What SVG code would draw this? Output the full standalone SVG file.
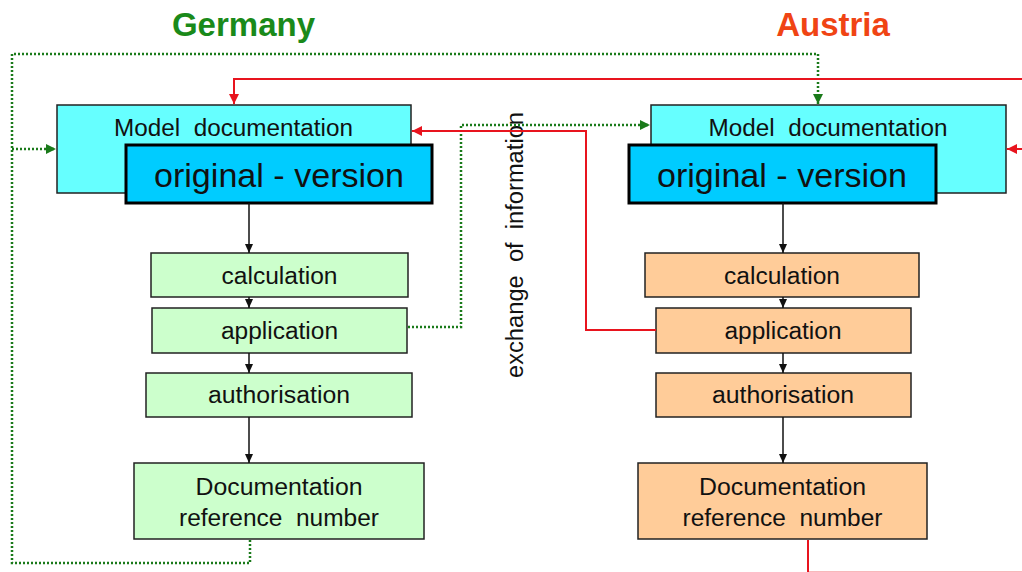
<svg xmlns="http://www.w3.org/2000/svg" width="1022" height="572" viewBox="0 0 1022 572" xml:space="preserve">
  <style>
    text { font-family: "Liberation Sans", Arial, sans-serif; fill: #111; white-space: pre; }
    .title { font-size: 33px; font-weight: bold; text-anchor: middle; }
    .lbl { font-size: 23px; text-anchor: middle; }
    .big { font-size: 33px; text-anchor: middle; }
    .doc { fill: #66ffff; stroke: #222; stroke-width: 1.5; }
    .orig { fill: #00ccff; stroke: #000; stroke-width: 3; }
    .de { fill: #ccffcc; stroke: #222; stroke-width: 1.5; }
    .at { fill: #ffcc99; stroke: #222; stroke-width: 1.5; }
    .flow { fill: none; stroke: #111; stroke-width: 1.5; marker-end: url(#ah-black); }
    .dot { fill: none; stroke: #1a7a1a; stroke-width: 2.5; stroke-dasharray: 2 2; }
    .red { fill: none; stroke: #e8141e; stroke-width: 2; }
  </style>
  <defs>
    <marker id="ah-black" markerUnits="userSpaceOnUse" markerWidth="10" markerHeight="10" refX="9" refY="4" orient="auto">
      <path d="M0,0 L9,4 L0,8 Z" fill="#111"/>
    </marker>
    <marker id="ah-green" markerUnits="userSpaceOnUse" markerWidth="12" markerHeight="12" refX="10" refY="5" orient="auto">
      <path d="M0,0 L10,5 L0,10 Z" fill="#1a7a1a"/>
    </marker>
    <marker id="ah-red" markerUnits="userSpaceOnUse" markerWidth="12" markerHeight="12" refX="10" refY="5" orient="auto">
      <path d="M0,0 L10,5 L0,10 Z" fill="#e8141e"/>
    </marker>
  </defs>

  <rect width="1022" height="572" fill="#fff"/>

  <!-- headings -->
  <text id="title-germany" class="title" x="243.5" y="36" style="fill:#1a8a1a">Germany</text>
  <text id="title-austria" class="title" x="833" y="36" style="fill:#f04414">Austria</text>

  <!-- vertical caption between the two columns -->
  <text id="caption" class="lbl" transform="translate(523,245) rotate(-90)" x="0" y="0" textLength="266" lengthAdjust="spacingAndGlyphs">exchange  of  information</text>

  <!-- Germany column -->
  <g id="de-model">
    <rect class="doc" x="57" y="105" width="354" height="88"/>
    <text class="lbl" x="233.5" y="136" textLength="239" lengthAdjust="spacingAndGlyphs">Model  documentation</text>
  </g>
  <g id="de-original">
    <rect class="orig" x="126" y="145" width="306" height="58"/>
    <text class="big" x="279" y="187" textLength="250" lengthAdjust="spacingAndGlyphs">original - version</text>
  </g>
  <g id="de-calculation">
    <rect class="de" x="151" y="253" width="257" height="44"/>
    <text class="lbl" x="279.5" y="284" textLength="116" lengthAdjust="spacingAndGlyphs">calculation</text>
  </g>
  <g id="de-application">
    <rect class="de" x="152" y="308" width="255" height="45"/>
    <text class="lbl" x="279.5" y="339" textLength="117" lengthAdjust="spacingAndGlyphs">application</text>
  </g>
  <g id="de-authorisation">
    <rect class="de" x="146" y="373" width="266" height="44"/>
    <text class="lbl" x="279" y="403" textLength="142" lengthAdjust="spacingAndGlyphs">authorisation</text>
  </g>
  <g id="de-reference">
    <rect class="de" x="134" y="463" width="290" height="76"/>
    <text class="lbl" x="279" y="495" textLength="167" lengthAdjust="spacingAndGlyphs">Documentation</text>
    <text class="lbl" x="279" y="526" textLength="200" lengthAdjust="spacingAndGlyphs">reference  number</text>
  </g>

  <!-- Austria column -->
  <g id="at-model">
    <rect class="doc" x="651" y="105" width="355" height="88"/>
    <text class="lbl" x="828" y="136" textLength="239" lengthAdjust="spacingAndGlyphs">Model  documentation</text>
  </g>
  <g id="at-original">
    <rect class="orig" x="629" y="145" width="307" height="58"/>
    <text class="big" x="782" y="187" textLength="250" lengthAdjust="spacingAndGlyphs">original - version</text>
  </g>
  <g id="at-calculation">
    <rect class="at" x="645" y="253" width="274" height="44"/>
    <text class="lbl" x="782" y="284" textLength="116" lengthAdjust="spacingAndGlyphs">calculation</text>
  </g>
  <g id="at-application">
    <rect class="at" x="656" y="308" width="255" height="45"/>
    <text class="lbl" x="783" y="339" textLength="117" lengthAdjust="spacingAndGlyphs">application</text>
  </g>
  <g id="at-authorisation">
    <rect class="at" x="656" y="373" width="255" height="44"/>
    <text class="lbl" x="783" y="403" textLength="142" lengthAdjust="spacingAndGlyphs">authorisation</text>
  </g>
  <g id="at-reference">
    <rect class="at" x="638" y="463" width="289" height="76"/>
    <text class="lbl" x="782.5" y="495" textLength="167" lengthAdjust="spacingAndGlyphs">Documentation</text>
    <text class="lbl" x="782.5" y="526" textLength="200" lengthAdjust="spacingAndGlyphs">reference  number</text>
  </g>

  <g id="connectors">
    <!-- process flow, Germany -->
    <path class="flow" d="M249,203 V253"/>
    <path class="flow" d="M249,297 V308"/>
    <path class="flow" d="M249,353 V373"/>
    <path class="flow" d="M249,417 V463"/>
    <!-- process flow, Austria -->
    <path class="flow" d="M783,203 V253"/>
    <path class="flow" d="M783,297 V308"/>
    <path class="flow" d="M783,353 V373"/>
    <path class="flow" d="M783,417 V463"/>

    <!-- Germany feedback loops (dotted green) -->
    <path class="dot" d="M250,540 V563 H12 V54 H818 V104" marker-end="url(#ah-green)"/>
    <path class="dot" d="M12,149 H56" marker-end="url(#ah-green)"/>
    <path class="dot" d="M408,327 H461 V125 H650" marker-end="url(#ah-green)"/>

    <!-- Austria feedback loops (red) -->
    <path class="red" d="M1022,79 H234 V104" marker-end="url(#ah-red)"/>
    <path class="red" d="M1022,149 H1007" marker-end="url(#ah-red)"/>
    <path class="red" d="M656,330 H586 V131 H412" marker-end="url(#ah-red)"/>
    <path class="red" d="M808,540 V572"/>
    <!-- return line running along the lower edge, mostly clipped -->
    <path d="M808,571.5 H1022" fill="none" stroke="#e8141e" stroke-width="1" stroke-opacity="0.3"/>
  </g>
</svg>
